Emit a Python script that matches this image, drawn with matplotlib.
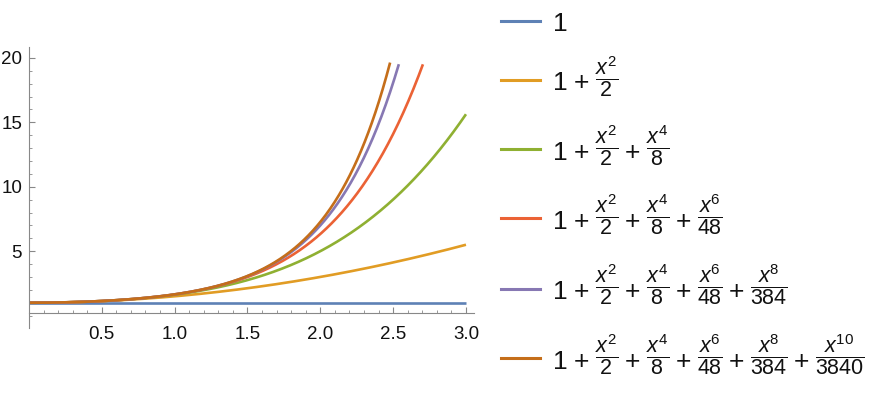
#!/usr/bin/env python3
import numpy as np
import matplotlib
matplotlib.use("Agg")
import matplotlib.pyplot as plt
from matplotlib.lines import Line2D
from matplotlib.ticker import MultipleLocator

plt.rcParams['font.family'] = ['Liberation Sans', 'DejaVu Sans']
plt.rcParams['mathtext.fontset'] = 'custom'
plt.rcParams['mathtext.rm'] = 'Liberation Sans'
plt.rcParams['mathtext.it'] = 'Liberation Sans:italic'

# partial sums of exp(x^2/2): term k is x^(2k) / denominators[k]
denominators = [1, 2, 8, 48, 384, 3840]
powers = [0, 2, 4, 6, 8, 10]
colors = ['#5E81B5', '#E19C24', '#8FB032', '#EB6235', '#8778B3', '#C56E1A']
x_ticks = [0.5, 1.0, 1.5, 2.0, 2.5, 3.0]
y_ticks = [5, 10, 15, 20]

W, H = 875, 395
fig = plt.figure(figsize=(W / 100, H / 100), dpi=100)
ax = fig.add_axes([0.0331, 0.1696, 0.5086, 0.7114])

x = np.linspace(0, 3, 600)
for n in range(len(denominators)):
    y = np.zeros_like(x)
    for k in range(n + 1):
        y += x ** powers[k] / denominators[k]
    y = np.where(y <= 19.65, y, np.nan)
    ax.plot(x, y, color=colors[n], lw=1.9, solid_capstyle='butt')

ax.set_xlim(0, 3.055)
ax.set_ylim(-0.96, 20.84)
ax.spines['top'].set_visible(False)
ax.spines['right'].set_visible(False)
ax.spines['left'].set_position(('data', 0))
ax.spines['bottom'].set_position(('data', 0.18))
for s in ['left', 'bottom']:
    ax.spines[s].set_color('#888888')
    ax.spines[s].set_linewidth(0.8)

ax.set_xticks(x_ticks)
ax.set_xticklabels(['%.1f' % v for v in x_ticks])
ax.set_yticks(y_ticks)
ax.xaxis.set_minor_locator(MultipleLocator(0.1))
ax.yaxis.set_minor_locator(MultipleLocator(1))
ax.tick_params(which='major', direction='in', length=4, width=0.8, color='#888888',
               labelsize=13.5, labelcolor='#111111')
ax.tick_params(which='minor', direction='in', length=2.2, width=0.6, color='#888888')
ax.tick_params(axis='x', pad=9)
ax.tick_params(axis='y', pad=5)

# legend: each entry built from big "1", "+" and smaller display fractions
row_y = [20.5, 80, 149.3, 218.5, 288.5, 358.3]
big_size = 19
frac_size = 15.5
gap = 6
frac_shift = 5.5
renderer = fig.canvas.get_renderer()

def put(px, py, s, size):
    t = fig.text(px / W, 1 - py / H, s, fontsize=size, ha='left', va='baseline',
                 color='#111111')
    return px + t.get_window_extent(renderer).width

for n in range(len(denominators)):
    L = row_y[n]
    fig.add_artist(Line2D([501 / W, 540 / W], [1 - L / H, 1 - L / H], color=colors[n],
                          lw=2.2, transform=fig.transFigure))
    base = L + 10.4
    px = put(553, base, '1', big_size)
    for k in range(1, n + 1):
        px = put(px + gap, base, '+', big_size)
        frac = r'$\dfrac{x^{%d}}{%d}$' % (powers[k], denominators[k])
        px = put(px + gap, base - frac_shift, frac, frac_size)

fig.savefig('out.png', dpi=100)
